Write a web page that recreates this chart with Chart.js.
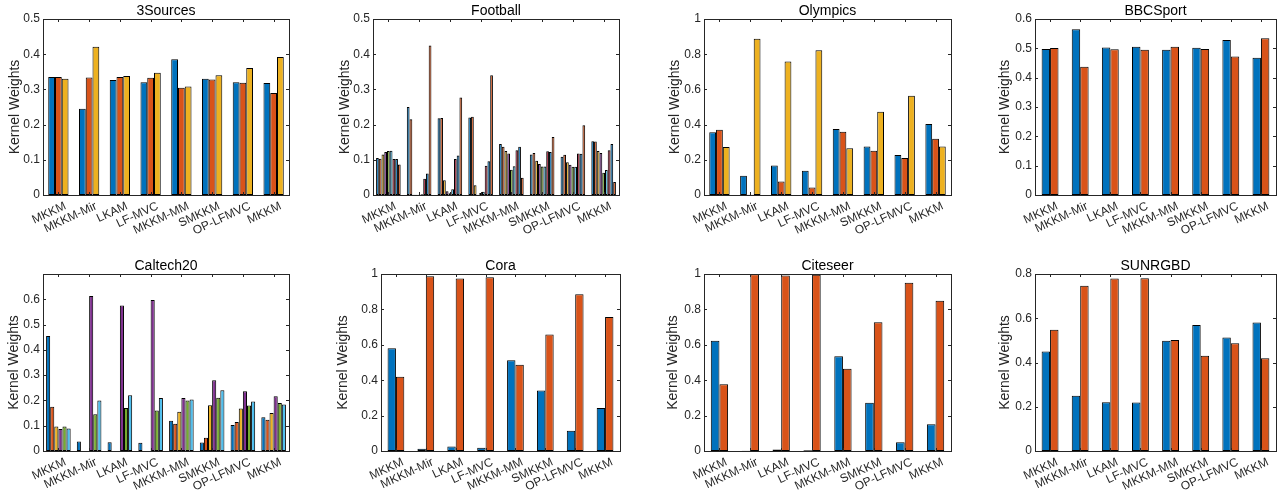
<!DOCTYPE html>
<html lang="en">
<head>
<meta charset="UTF-8">
<title>Kernel Weights</title>
<style>
  body { margin: 0; background: #fff; }
  #wrap { position: relative; width: 1278px; height: 490px; overflow: hidden; }
  #wrap canvas { position: absolute; }
</style>
</head>
<body>
<div id="wrap"></div>
<script src="https://cdn.jsdelivr.net/npm/chart.js"></script>
<script>
// methods on the x axis (same for every panel)
const methods = ['MKKM', 'MKKM-Mir', 'LKAM', 'LF-MVC', 'MKKM-MM', 'SMKKM', 'OP-LFMVC', 'MKKM'];

// each row = one kernel (series), each column = one method
const sources3 = [
  [0.335, 0.245, 0.327, 0.320, 0.386, 0.330, 0.320, 0.318],
  [0.335, 0.334, 0.335, 0.333, 0.305, 0.328, 0.319, 0.290],
  [0.330, 0.421, 0.338, 0.347, 0.308, 0.340, 0.361, 0.392]
];
const football = [
  [0.105, 0.250, 0.218, 0.220, 0.145, 0.115, 0.109, 0.153],
  [0.103, 0.215, 0.219, 0.222, 0.137, 0.119, 0.114, 0.152],
  [0.115, 0.001, 0.042, 0.028, 0.125, 0.097, 0.093, 0.125],
  [0.122, 0.001, 0.011, 0.001, 0.118, 0.088, 0.086, 0.119],
  [0.125, 0.001, 0.005, 0.006, 0.072, 0.081, 0.080, 0.063],
  [0.126, 0.002, 0.016, 0.009, 0.082, 0.081, 0.080, 0.071],
  [0.102, 0.046, 0.102, 0.083, 0.127, 0.124, 0.118, 0.127],
  [0.102, 0.061, 0.112, 0.096, 0.137, 0.122, 0.117, 0.145],
  [0.087, 0.425, 0.277, 0.340, 0.049, 0.165, 0.198, 0.037]
];
const olympics = [
  [0.356, 0.110, 0.167, 0.138, 0.375, 0.275, 0.227, 0.403],
  [0.371, 0.002, 0.076, 0.042, 0.360, 0.252, 0.210, 0.320],
  [0.273, 0.888, 0.759, 0.822, 0.265, 0.473, 0.564, 0.276]
];
const bbcsport = [
  [0.498, 0.565, 0.503, 0.505, 0.495, 0.502, 0.528, 0.468],
  [0.501, 0.437, 0.497, 0.495, 0.505, 0.498, 0.472, 0.534]
];
const caltech20 = [
  [0.455, 0.038, 0.035, 0.033, 0.120, 0.034, 0.103, 0.133],
  [0.175, 0.000, 0.000, 0.000, 0.108, 0.052, 0.115, 0.124],
  [0.097, 0.000, 0.000, 0.000, 0.155, 0.181, 0.168, 0.150],
  [0.087, 0.613, 0.575, 0.597, 0.210, 0.280, 0.236, 0.217],
  [0.097, 0.145, 0.170, 0.160, 0.200, 0.211, 0.180, 0.190],
  [0.089, 0.200, 0.220, 0.210, 0.204, 0.240, 0.196, 0.184]
];
const cora = [
  [0.581, 0.013, 0.025, 0.018, 0.513, 0.342, 0.115, 0.243],
  [0.419, 0.987, 0.975, 0.982, 0.487, 0.658, 0.885, 0.757]
];
const citeseer = [
  [0.623, 0.002, 0.008, 0.004, 0.536, 0.272, 0.049, 0.151],
  [0.377, 0.998, 0.992, 0.996, 0.464, 0.728, 0.951, 0.849]
];
const sunrgbd = [
  [0.450, 0.250, 0.220, 0.219, 0.498, 0.569, 0.513, 0.581],
  [0.548, 0.747, 0.780, 0.781, 0.502, 0.431, 0.487, 0.419]
];

const palette = ['#0072BD', '#D95319', '#EDB120', '#7E2F8E', '#77AC30', '#4DBEEE', '#A2142F'];
const FONT = '"Liberation Sans", Arial, Helvetica, sans-serif';
const AXIS = '#262626';

// panel layout: canvas corner, plot box and y-label centre (pixels)
const panels = [
  { title: '3Sources',  data: sources3,  max: 0.5, step: 0.1, cx: 0,   cy: 0,   box: [43, 19, 289, 195],   ylab: 15 },
  { title: 'Football',  data: football,  max: 0.5, step: 0.1, cx: 320, cy: 0,   box: [373, 19, 619, 195],  ylab: 345 },
  { title: 'Olympics',  data: olympics,  max: 1,   step: 0.2, cx: 640, cy: 0,   box: [704, 19, 951, 195],  ylab: 675 },
  { title: 'BBCSport',  data: bbcsport,  max: 0.6, step: 0.1, cx: 958, cy: 0,   box: [1035, 19, 1276, 195], ylab: 1005 },
  { title: 'Caltech20', data: caltech20, max: 0.7, step: 0.1, cx: 0,   cy: 245, box: [43, 274, 289, 451],  ylab: 14, hideTop: true },
  { title: 'Cora',      data: cora,      max: 1,   step: 0.2, cx: 320, cy: 245, box: [381, 274, 620, 451], ylab: 343 },
  { title: 'Citeseer',  data: citeseer,  max: 1,   step: 0.2, cx: 640, cy: 245, box: [704, 274, 951, 451], ylab: 673 },
  { title: 'SUNRGBD',   data: sunrgbd,   max: 0.8, step: 0.2, cx: 958, cy: 245, box: [1035, 274, 1276, 451], ylab: 1005 }
];

// MATLAB-like box, inward ticks and title
const matlabBox = {
  id: 'matlabBox',
  afterDatasetsDraw(chart, args, opts) {
    const { ctx, chartArea: a, scales: { x, y } } = chart;
    ctx.save();
    ctx.strokeStyle = AXIS;
    ctx.lineWidth = 1;
    ctx.beginPath();
    y.ticks.forEach(t => {
      const py = Math.round(y.getPixelForValue(t.value)) + 0.5;
      ctx.moveTo(a.left, py); ctx.lineTo(a.left + 3, py);
      ctx.moveTo(a.right, py); ctx.lineTo(a.right - 3, py);
    });
    x.ticks.forEach((t, i) => {
      const px = Math.round(x.getPixelForTick(i)) + 0.5;
      ctx.moveTo(px, a.bottom); ctx.lineTo(px, a.bottom - 3);
      ctx.moveTo(px, a.top); ctx.lineTo(px, a.top + 3);
    });
    ctx.stroke();
    ctx.strokeRect(Math.round(a.left) + 0.5, Math.round(a.top) + 0.5,
      Math.round(a.right - a.left), Math.round(a.bottom - a.top));
    ctx.fillStyle = '#000';
    ctx.font = '14px ' + FONT;
    ctx.textAlign = 'center';
    ctx.textBaseline = 'alphabetic';
    ctx.fillText(opts.text, (a.left + a.right) / 2, a.top - 4);
    ctx.restore();
  }
};

const wrap = document.getElementById('wrap');

panels.forEach(p => {
  const [l, t, r, b] = p.box;
  const canvas = document.createElement('canvas');
  const w = Math.min(r + 2, 1278) - p.cx;
  const h = 245;
  canvas.width = w;
  canvas.height = h;
  canvas.style.left = p.cx + 'px';
  canvas.style.top = p.cy + 'px';
  wrap.appendChild(canvas);

  const n = p.data.length;
  const groupPct = n >= 6 ? 0.8 : (n === 3 ? 0.66 : 0.56);

  new Chart(canvas, {
    type: 'bar',
    data: {
      labels: methods,
      datasets: p.data.map((vals, i) => ({
        label: 'Kernel ' + (i + 1),
        data: vals,
        backgroundColor: palette[i % palette.length],
        borderColor: '#000',
        borderWidth: 1,
        borderSkipped: false,
        categoryPercentage: groupPct,
        barPercentage: 1
      }))
    },
    options: {
      responsive: false,
      animation: false,
      devicePixelRatio: 1,
      layout: { padding: { left: 0, right: p.cx + w - r, top: t - p.cy, bottom: 0 } },
      plugins: {
        legend: { display: false },
        tooltip: { enabled: false },
        matlabBox: { text: p.title }
      },
      scales: {
        x: {
          grid: { display: false, drawTicks: false },
          border: { display: false },
          ticks: {
            autoSkip: false, maxRotation: 25, minRotation: 25, padding: 4, labelOffset: 7,
            color: AXIS, font: { size: 12, family: FONT }
          },
          afterFit: s => { s.height = p.cy + h - b; }
        },
        y: {
          min: 0,
          max: p.max,
          grid: { display: false, drawTicks: false },
          border: { display: false },
          ticks: {
            stepSize: p.step, padding: 3, color: AXIS,
            font: { size: 12, family: FONT },
            callback: v => String(+v.toFixed(2))
          },
          afterBuildTicks: s => {
            if (p.hideTop) s.ticks = s.ticks.filter(tk => tk.value < p.max - 1e-6);
          },
          title: {
            display: true, text: 'Kernel Weights', color: AXIS,
            font: { size: 14, family: FONT },
            padding: { top: p.ylab - p.cx - 8.4, bottom: 0 }
          },
          afterFit: s => { s.width = l - p.cx; }
        }
      }
    },
    plugins: [matlabBox]
  });
});
</script>
</body>
</html>
